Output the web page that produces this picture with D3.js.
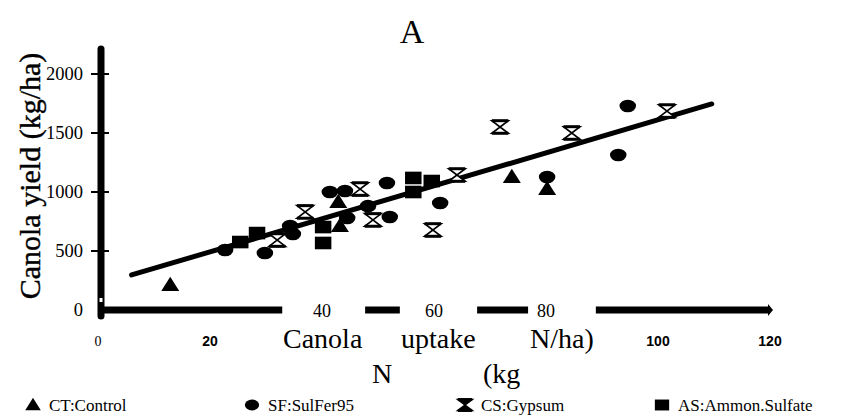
<!DOCTYPE html>
<html><head><meta charset="utf-8">
<script src="https://cdn.jsdelivr.net/npm/d3@7"></script>
<style>body{margin:0;background:#fff}svg{display:block}</style>
</head><body><svg id="c" width="844" height="419"></svg>
<script>
// N uptake (kg N/ha) and canola yield (kg/ha) per treatment
const ctN = [12.9, 42.9, 43.2, 73.9, 80.2];
const ctY = [212, 915, 712, 1127, 1025];
const sfN = [22.7, 29.8, 34.3, 34.8, 41.4, 44.1, 44.5, 48.2, 51.6, 52.1, 61.1, 80.2, 92.9, 94.6];
const sfY = [508, 483, 712, 644, 1000, 1008, 780, 880, 1076, 788, 907, 1127, 1314, 1729];
const csN = [32.0, 37.0, 46.8, 49.1, 59.8, 64.1, 71.8, 84.6, 101.6];
const csY = [593, 831, 1025, 763, 678, 1144, 1551, 1500, 1686];
const asN = [25.4, 28.4, 40.2, 40.2, 56.3, 59.6, 56.3];
const asY = [576, 652, 703, 568, 1119, 1093, 1000];
// fitted regression line end points
const fitN = [6.0, 109.6];
const fitY = [297, 1746];
const yTicks = [0, 500, 1000, 1500, 2000];
const xTicksBelow = [0, 20, 100, 120];
const xTicksInAxis = [40, 60, 80];
const xAxisSegments = [[0, 32.9], [47.7, 53.9], [67.7, 76.8], [88.9, 120]];
const legendLabels = ["CT:Control", "SF:SulFer95", "CS:Gypsum", "AS:Ammon.Sulfate"];

const svg = d3.select("#c");
const x = d3.scaleLinear().domain([0, 120]).range([98, 770]);
const y = d3.scaleLinear().domain([0, 2000]).range([310, 74]);
const serif = "'Liberation Serif', 'Times New Roman', serif";
const sansN = "'Liberation Sans Narrow', 'Liberation Sans', Arial, sans-serif";

// title
svg.append("text").attr("x", 412).attr("y", 43).attr("text-anchor", "middle")
  .attr("font-family", serif).attr("font-size", 34).text("A");

// y axis
svg.append("line").attr("x1", x(0) + 3).attr("x2", x(0) + 3).attr("y1", 49).attr("y2", 316)
  .attr("stroke", "#000").attr("stroke-width", 7).attr("stroke-linecap", "round");
svg.append("line").attr("x1", x(0) + 3).attr("x2", x(0) + 3).attr("y1", 298).attr("y2", 302)
  .attr("stroke", "#fff").attr("stroke-width", 3);
const yg = svg.append("g");
yg.selectAll("line.t").data(yTicks.slice(1)).join("line")
  .attr("x1", 91).attr("x2", 109).attr("y1", d => y(d)).attr("y2", d => y(d))
  .attr("stroke", "#000").attr("stroke-width", 2);
yg.selectAll("text").data(yTicks).join("text")
  .attr("x", 83).attr("y", d => y(d) + 6).attr("text-anchor", "end")
  .attr("font-family", serif).attr("font-size", 18.5).text(d => d);

// x axis (broken around in-axis labels)
svg.selectAll("line.xs").data(xAxisSegments).join("line").attr("class", "xs")
  .attr("x1", d => x(d[0])).attr("x2", d => x(d[1])).attr("y1", 310).attr("y2", 310)
  .attr("stroke", "#000").attr("stroke-width", 7);
svg.append("path")
  .attr("d", `M${x(120) - 2},304 L${x(120) + 3},310 L${x(120) - 2},316 Z`).attr("fill", "#000");
svg.selectAll("text.xi").data(xTicksInAxis).join("text").attr("class", "xi")
  .attr("x", d => x(d)).attr("y", 317).attr("text-anchor", "middle")
  .attr("font-family", serif).attr("font-size", 18).text(d => d);
svg.selectAll("text.xb").data(xTicksBelow).join("text").attr("class", "xb")
  .attr("x", d => x(d)).attr("y", 346).attr("text-anchor", "middle")
  .attr("font-family", d => d === 0 ? serif : sansN).attr("font-weight", d => d === 0 ? "normal" : "bold")
  .attr("font-size", 14).text(d => d);

// x axis title (scattered words as in the scan)
const xt = [["Canola", 283, 348], ["uptake", 401, 348], ["N/ha)", 530, 348], ["N", 372, 383], ["(kg", 483, 383]];
svg.selectAll("text.xt").data(xt).join("text").attr("class", "xt")
  .attr("x", d => d[1]).attr("y", d => d[2])
  .attr("font-family", serif).attr("font-size", 28).text(d => d[0]);

// y axis title
svg.append("text").attr("transform", "translate(40,176) rotate(-90)").attr("text-anchor", "middle")
  .attr("font-family", serif).attr("font-size", 30).attr("stroke", "#000").attr("stroke-width", 0.4)
  .text("Canola yield (kg/ha)");

// regression line
svg.append("line").attr("x1", x(fitN[0])).attr("y1", y(fitY[0])).attr("x2", x(fitN[1])).attr("y2", y(fitY[1]))
  .attr("stroke", "#000").attr("stroke-width", 5).attr("stroke-linecap", "round");

// marker shapes
function tri(g, s) { g.append("path").attr("d", `M0,${-s * 0.55} L${s * 0.6},${s * 0.4} L${-s * 0.6},${s * 0.4} Z`).attr("fill", "#000"); }
function circ(g, s) { g.append("ellipse").attr("rx", s * 0.55).attr("ry", s * 0.42).attr("fill", "#000"); }
function hour(g, s, filled) {
  const w = s * 0.55, h = s * 0.42;
  g.append("path").attr("d", `M${-w},${-h} L${w},${-h} L${-w},${h} L${w},${h} Z`)
    .attr("fill", filled ? "#000" : "#fff").attr("stroke", "#000").attr("stroke-width", 1.6);
  g.append("line").attr("x1", -w).attr("x2", w).attr("y1", -h).attr("y2", -h).attr("stroke", "#000").attr("stroke-width", 3);
  g.append("line").attr("x1", -w).attr("x2", w).attr("y1", h).attr("y2", h).attr("stroke", "#000").attr("stroke-width", 3);
}
function sq(g, s) { g.append("rect").attr("x", -s * 0.55).attr("y", -s * 0.42).attr("width", s * 1.1).attr("height", s * 0.84).attr("fill", "#000"); }

function plot(ns, ys, fn) {
  ns.forEach((n, i) => { const g = svg.append("g").attr("transform", `translate(${x(n)},${y(ys[i])})`); fn(g, 15); });
}
plot(asN, asY, sq);
plot(sfN, sfY, circ);
plot(ctN, ctY, tri);
plot(csN, csY, (g, s) => hour(g, s, false));

// legend
const legX = [33, 252, 465, 662];
const legFns = [tri, circ, (g, s) => hour(g, s, true), sq];
legendLabels.forEach((lab, i) => {
  const g = svg.append("g").attr("transform", `translate(${legX[i]},405)`);
  legFns[i](g, 13);
  svg.append("text").attr("x", legX[i] + 16).attr("y", 411).attr("font-family", serif)
    .attr("font-size", 17).text(lab);
});
</script></body></html>
